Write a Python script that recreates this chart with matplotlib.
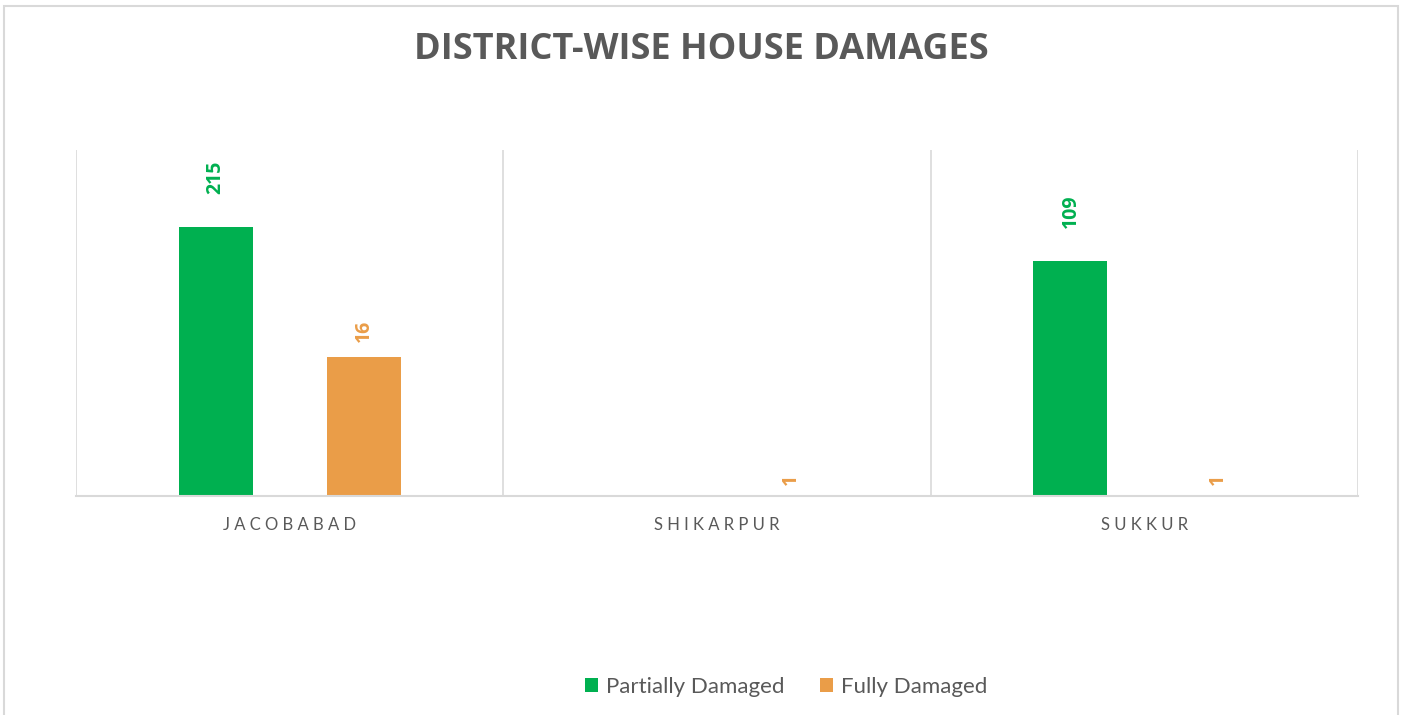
import numpy as np
import matplotlib.pyplot as plt
from matplotlib.patches import Rectangle

districts = ["JACOBABAD", "SHIKARPUR", "SUKKUR"]
partially = [215, 0, 109]
fully = [16, 1, 1]
series_names = ["Partially Damaged", "Fully Damaged"]

green = "#00B050"
orange = "#EA9D48"
grey = "#595959"
line = "#D9D9D9"

plt.rcParams['font.family'] = ['Lato', 'DejaVu Sans']

fig = plt.figure(figsize=(14.07, 7.15), dpi=100)
fig.patches.append(Rectangle((4 / 1407, -0.05), 1394 / 1407, 1.05 - 6 / 715,
                             transform=fig.transFigure, fill=False,
                             edgecolor=line, linewidth=1.5))

ax = fig.add_axes([76 / 1407, 1 - 496 / 715, 1282 / 1407, 346 / 715])
x = np.arange(len(districts)) + 0.5
w = 0.173

ax.set_yscale('log')
ax.bar(x - w, partially, width=w, color=green, label=series_names[0])
ax.bar(x + w, fully, width=w, color=orange, label=series_names[1])
ax.set_ylim(1, 1000)
ax.set_xlim(0, 3)

# excel puts longer rotated labels further from the bar end
gap = {1: 8, 2: 11, 3: 24}


def label(xs, vals, color):
    for xi, v in zip(xs, vals):
        if v <= 0:
            continue
        s = str(v)
        ax.annotate(s, (xi, v), xytext=(0, gap[len(s)]),
                    textcoords='offset points', rotation=90, ha='center',
                    va='bottom', color=color, fontsize=14, fontweight='bold',
                    family='Open Sans')


label(x - w, partially, green)
label(x + w, fully, orange)

for b in [0, 1, 2, 3]:
    ax.axvline(b, color=line, linewidth=1.2, zorder=0)

ax.set_xticks(x)
ax.set_xticklabels([" ".join(d) for d in districts], color=grey, fontsize=12)
ax.tick_params(axis='x', length=0, pad=15)
ax.set_yticks([])
ax.minorticks_off()
ax.tick_params(axis='y', which='both', left=False, labelleft=False)
for s in ['top', 'left', 'right']:
    ax.spines[s].set_visible(False)
ax.spines['bottom'].set_color(line)
ax.spines['bottom'].set_linewidth(1.5)

fig.text(701 / 1407, 1 - 50 / 715, "DISTRICT-WISE HOUSE DAMAGES", ha='center',
         va='center', color=grey, fontsize=26, fontweight='bold',
         family='Open Sans')

fig.legend(loc='center', bbox_to_anchor=(786 / 1407, 1 - 687 / 715), ncol=2,
           frameon=False, fontsize=16, labelcolor=grey, handlelength=0.6,
           handleheight=0.6, handletextpad=0.35, columnspacing=1.6)

fig.savefig("out.png", dpi=100)
